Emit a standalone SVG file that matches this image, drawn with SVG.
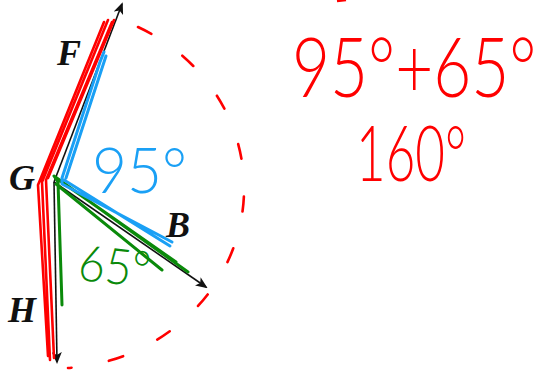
<svg xmlns="http://www.w3.org/2000/svg" width="536" height="371" viewBox="0 0 536 371">
<defs>
<marker id="ah" markerWidth="12" markerHeight="10" refX="10" refY="5" orient="auto" markerUnits="userSpaceOnUse" viewBox="0 0 12 10">
<path d="M0,0 L12,5 L0,10 L3,5 Z" fill="#111"/>
</marker>
<style>
.lbl{font-family:"Liberation Serif",serif;font-style:italic;font-weight:bold;font-size:36px;fill:#111}
.ray{stroke:#111;stroke-width:1.6;fill:none;marker-end:url(#ah)}
.hw{font-family:Lato,"Liberation Sans",sans-serif;font-weight:300}
.red{stroke:#f00;fill:none;stroke-width:2.6;stroke-linecap:round;stroke-linejoin:round}
.blue{stroke:#1aa0f5;fill:none;stroke-width:3;stroke-linecap:round;stroke-linejoin:round}
.green{stroke:#0a8a0a;fill:none;stroke-width:3;stroke-linecap:round;stroke-linejoin:round}
</style>
</defs>
<rect width="536" height="371" fill="#fff"/>
<path d="M138,27 A190,180 0 0 1 68,368" stroke="#f00" stroke-width="2.6" fill="none" stroke-dasharray="15 38" stroke-linecap="round"/>
<g id="connectors">
<line class="ray" x1="54" y1="182" x2="122" y2="4"/>
<line class="ray" x1="54" y1="182" x2="206" y2="287"/>
<line class="ray" x1="54" y1="182" x2="57" y2="362"/>
</g>
<g id="highlights">
<path class="green" d="M62,305 L58,182 L54,176 L188,272 M56,184 L162,270 M56,178 L176,262"/>
<path class="blue" d="M104,52 L100,62 L62,178 L62,184 L172,242 M106,56 L66,178 M64,180 L170,246"/>
<path class="red" d="M108,20 L42,182 L50,360 M112,22 L46,180 L54,358 M104,22 L38,185 L48,356 M114,20 L48,178"/>
<line x1="337" y1="1" x2="346" y2="0" stroke="#f00" stroke-width="2.6"/>
</g>
<g id="F"><text class="lbl" x="57" y="65">F</text></g>
<g id="G"><text class="lbl" x="9" y="190">G</text></g>
<g id="H"><text class="lbl" x="8" y="322">H</text></g>
<g id="B"><text class="lbl" x="166" y="237">B</text></g>
<g id="blue-label"><text class="hw" x="92" y="193" font-size="64" fill="#1aa0f5" textLength="95" lengthAdjust="spacingAndGlyphs">95°</text></g>
<g id="green-label"><text class="hw" x="77" y="280" font-size="50" fill="#0a8a0a" textLength="72" lengthAdjust="spacingAndGlyphs" transform="rotate(6 77 280)">65°</text></g>
<g id="sum"><text class="hw" x="0" y="0" font-size="82" fill="#f00" transform="translate(292 97) scale(0.8 1)">95°+65°</text></g>
<g id="result"><text class="hw" x="356" y="181" font-size="76" fill="#f00" textLength="110" lengthAdjust="spacingAndGlyphs">160°</text></g>
</svg>
